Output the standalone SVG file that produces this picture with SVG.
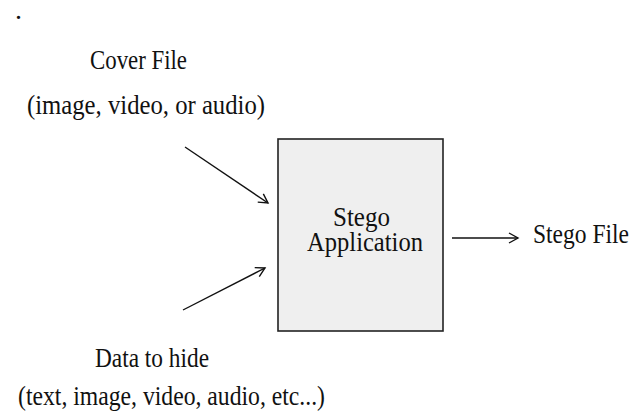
<svg xmlns="http://www.w3.org/2000/svg" width="639" height="417" viewBox="0 0 639 417">
<defs>
<style>
text{font-family:"Liberation Serif","DejaVu Serif",serif;font-size:28px;fill:#111}
.ln{stroke:#111;stroke-width:1.4;fill:none}
</style>
<marker id="ah" markerWidth="12" markerHeight="12" refX="10" refY="6" orient="auto" markerUnits="userSpaceOnUse">
<path d="M1,1 L10,6 L1,11" fill="none" stroke="#111" stroke-width="1.4"/>
</marker>
</defs>
<rect width="639" height="417" fill="#fff"/>
<text x="15" y="19" font-size="16">.</text>
<g id="cover">
<text x="90" y="69" textLength="97" lengthAdjust="spacingAndGlyphs">Cover File</text>
<text x="27" y="114" textLength="238" lengthAdjust="spacingAndGlyphs">(image, video, or audio)</text>
</g>
<g id="app">
<rect x="278" y="139" width="165" height="192" fill="#efefef" stroke="#222" stroke-width="1.6"/>
<text x="333" y="226" font-size="24" textLength="57" lengthAdjust="spacingAndGlyphs">Stego</text>
<text x="307" y="251" font-size="24" textLength="116" lengthAdjust="spacingAndGlyphs">Application</text>
</g>
<g id="stegofile">
<text x="533" y="243" font-size="26" textLength="96" lengthAdjust="spacingAndGlyphs">Stego File</text>
</g>
<g id="data">
<text x="95" y="367" textLength="114" lengthAdjust="spacingAndGlyphs">Data to hide</text>
<text x="18" y="405" textLength="307" lengthAdjust="spacingAndGlyphs">(text, image, video, audio, etc...)</text>
</g>
<g id="connectors">
<line class="ln" x1="185" y1="147" x2="268" y2="203" marker-end="url(#ah)"/>
<line class="ln" x1="183" y1="310" x2="265" y2="268" marker-end="url(#ah)"/>
<line class="ln" x1="452" y1="238" x2="518" y2="238" marker-end="url(#ah)"/>
</g>
</svg>
